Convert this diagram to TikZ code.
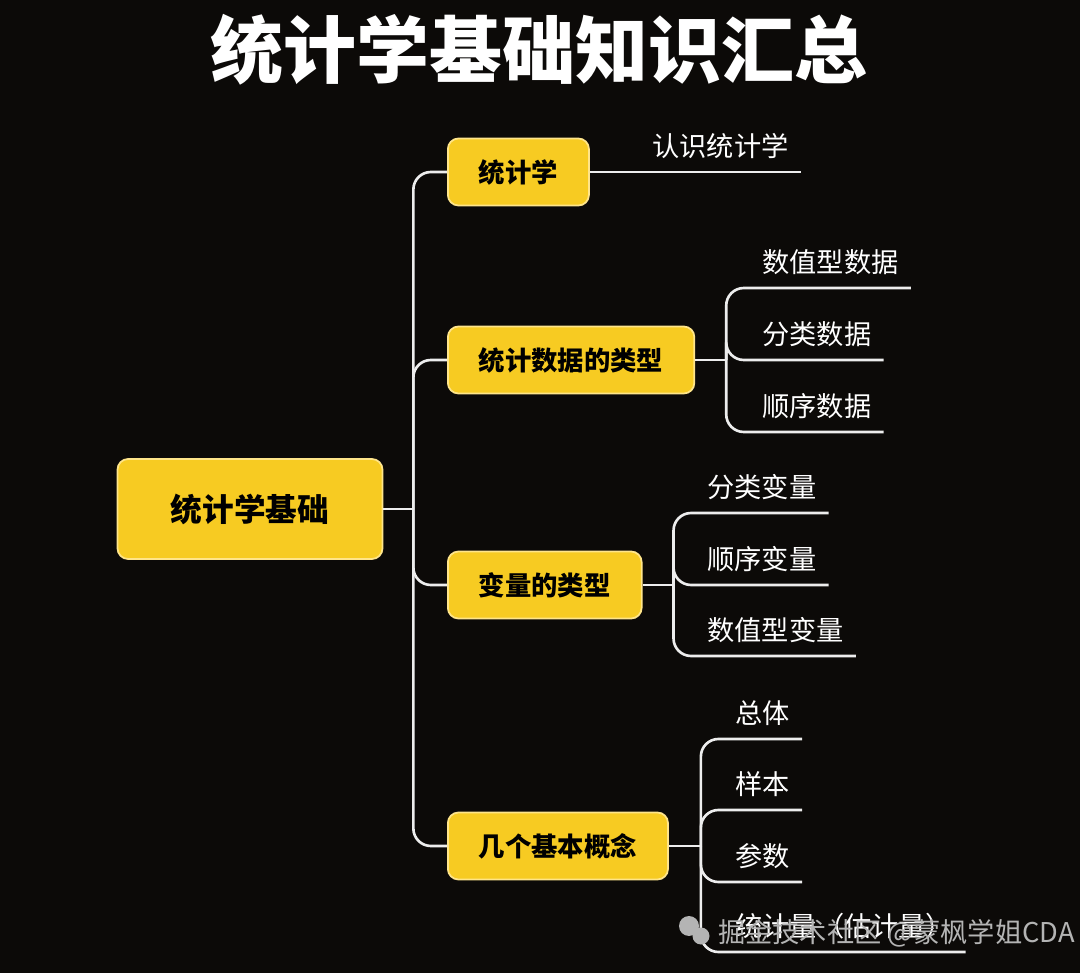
\documentclass[tikz,border=0pt]{standalone}
\usepackage{fontspec}
\setmainfont{Noto Sans CJK SC}
\definecolor{bgdark}{HTML}{0C0A08}
\definecolor{nodeyellow}{HTML}{F7CB22}
\definecolor{nodeedge}{HTML}{FFE58A}
\definecolor{linewhite}{HTML}{EDEDED}
\definecolor{wmgray}{HTML}{B4B4B4}
\usetikzlibrary{positioning}

\begin{document}
\begin{tikzpicture}[
  x=0.02cm, y=-0.02cm,
  every node/.style={font=\fontsize{15.5}{18}\selectfont},
  rootbox/.style={rectangle, rounded corners=6pt, draw=nodeedge, line width=1pt,
              fill=nodeyellow, minimum width=5.3cm, minimum height=2cm,
              font=\fontsize{18}{22}\selectfont\bfseries},
  branch/.style={rectangle, rounded corners=6pt, draw=nodeedge, line width=1pt,
              fill=nodeyellow, anchor=west, inner xsep=0.62cm,
              minimum height=1.34cm, font=\fontsize{15}{18}\selectfont\bfseries},
  leaf/.style={anchor=south west, text=white, inner xsep=0.24cm, inner ysep=0.26cm},
  conn/.style={draw=linewhite, line width=1.5pt, rounded corners=10pt}
]
  \fill[bgdark] (0,0) rectangle (1080,973);
  \useasboundingbox (0,0) rectangle (1080,973);

  \node[text=white, font=\fontsize{41.5}{46}\selectfont\bfseries]
    (title) at (539,50) {统计学基础知识汇总};

  \node[rootbox] (root) at (250,509) {统计学基础};

  \node[branch] (stat)  at (447,172) {统计学};
  \node[branch] (dtype) at (447,360) {统计数据的类型};
  \node[branch] (vtype) at (447,585) {变量的类型};
  \node[branch] (basic) at (447,846) {几个基本概念};

  % trunk
  \path (root.east) ++(30,0) coordinate (rj);
  \draw[conn] (root.east) -- (rj);
  \foreach \b in {stat,dtype,vtype,basic}
    \draw[conn] (rj) |- (\b.west);

  % leaves
  \node[leaf] (know) at (640,172) {认识统计学};
  \draw[conn] (stat.east) -- (know.south east);

  \node[leaf] (numdata) at (750,288) {数值型数据};
  \node[leaf] (catdata) at (750,360) {分类数据};
  \node[leaf] (orddata) at (750,432) {顺序数据};
  \path (dtype.east) ++(31,0) coordinate (dj);
  \draw[conn] (dtype.east) -- (dj);
  \foreach \l in {numdata,catdata,orddata}
    \draw[conn] (dj) |- (\l.south east);

  \node[leaf] (catvar) at (695,513) {分类变量};
  \node[leaf] (ordvar) at (695,585) {顺序变量};
  \node[leaf] (numvar) at (695,656) {数值型变量};
  \path (vtype.east) ++(31,0) coordinate (vj);
  \draw[conn] (vtype.east) -- (vj);
  \foreach \l in {catvar,ordvar,numvar}
    \draw[conn] (vj) |- (\l.south east);

  \node[leaf] (popul)  at (723,739) {总体};
  \node[leaf] (sample) at (723,810) {样本};
  \node[leaf] (param)  at (723,882) {参数};
  \node[leaf] (statis) at (723,952) {统计量（估计量）};
  \path (basic.east) ++(32,0) coordinate (bj);
  \draw[conn] (basic.east) -- (bj);
  \foreach \l in {popul,sample,param,statis}
    \draw[conn] (bj) |- (\l.south east);

  % watermark
  \fill[wmgray] (689,926) circle (10);
  \fill[wmgray] (701,936) circle (8.5);
  \node[text=wmgray, anchor=west] (mark) at (712,933) {掘金技术社区 @蒙枫学姐CDA};
\end{tikzpicture}
\end{document}
